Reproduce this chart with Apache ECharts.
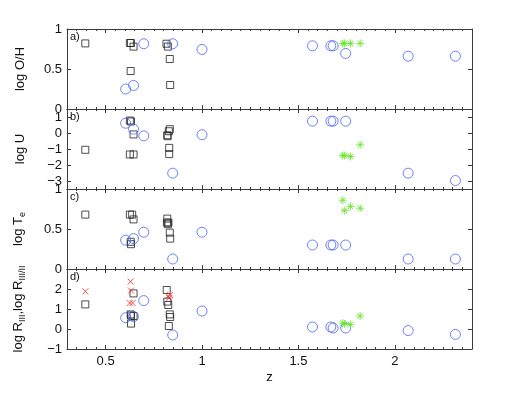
<!DOCTYPE html>
<html>
<head>
<meta charset="utf-8">
<script src="https://cdn.jsdelivr.net/npm/echarts@6/dist/echarts.min.js"></script>
<style>
  html, body { margin: 0; padding: 0; background: #fff; }
  #chart { width: 523px; height: 394px; }
</style>
</head>
<body>
<div id="chart"></div>
<script>
// x ticks (redshift z)
const zTicks = [0.5, 1, 1.5, 2]

// a) log O/H
const ohSquares = [[0.395, 0.82], [0.626, 0.825], [0.632, 0.825], [0.645, 0.78], [0.63, 0.475],
  [0.816, 0.816], [0.823, 0.78], [0.833, 0.625], [0.835, 0.30]]
const ohCircles = [[0.604, 0.25], [0.645, 0.295], [0.698, 0.816], [0.848, 0.816], [1.0, 0.745],
  [1.573, 0.79], [1.668, 0.79], [1.68, 0.79], [1.745, 0.695], [2.069, 0.66], [2.314, 0.66]]
const ohStars = [[1.73, 0.82], [1.74, 0.82], [1.77, 0.82], [1.82, 0.82]]

// b) log U
const uSquares = [[0.395, -1.05], [0.626, 0.78], [0.632, 0.72], [0.645, -0.09], [0.626, -1.34],
  [0.645, -1.34], [0.833, 0.24], [0.828, 0.11], [0.82, -0.14], [0.822, -0.2], [0.83, -0.93], [0.83, -1.32]]
const uCircles = [[0.604, 0.61], [0.645, 0.24], [0.698, -0.18], [0.848, -2.51], [1.0, -0.11],
  [1.573, 0.74], [1.668, 0.74], [1.68, 0.74], [1.745, 0.74], [2.069, -2.51], [2.314, -2.97]]
const uStars = [[1.73, -1.41], [1.74, -1.41], [1.77, -1.47], [1.82, -0.74]]

// c) log Te
const teSquares = [[0.395, 0.68], [0.626, 0.68], [0.638, 0.68], [0.645, 0.62], [0.63, 0.34],
  [0.632, 0.31], [0.82, 0.63], [0.818, 0.58], [0.826, 0.58], [0.823, 0.56], [0.833, 0.455], [0.835, 0.38]]
const teCircles = [[0.604, 0.36], [0.645, 0.38], [0.698, 0.46], [0.848, 0.125], [1.0, 0.46],
  [1.573, 0.30], [1.668, 0.30], [1.68, 0.30], [1.745, 0.30], [2.069, 0.125], [2.314, 0.125]]
const teStars = [[1.73, 0.86], [1.74, 0.73], [1.77, 0.78], [1.82, 0.76]]

// d) log R_III, log R_III/II
const rSquares = [[0.395, 1.23], [0.63, 0.73], [0.632, 0.67], [0.645, 0.65], [0.632, 0.27],
  [0.645, 1.78], [0.817, 1.95], [0.82, 1.37], [0.825, 1.2], [0.833, 0.73], [0.835, 0.6], [0.828, 0.15]]
const rCrosses = [[0.395, 1.88], [0.63, 2.37], [0.632, 1.92], [0.625, 1.3], [0.64, 1.3],
  [0.825, 1.65], [0.83, 1.55], [0.835, 1.7]]
const rCircles = [[0.604, 0.565], [0.645, 0.62], [0.698, 1.42], [0.848, -0.3], [1.0, 0.9],
  [1.573, 0.1], [1.668, 0.1], [1.68, 0.05], [1.745, 0.05], [2.069, -0.08], [2.314, -0.27]]
const rStars = [[1.73, 0.3], [1.74, 0.25], [1.77, 0.23], [1.82, 0.65]]

// panels: y range + tick values
const panels = [
  {tag: 'a)', name: 'log O/H', min: 0, max: 1, ticks: [0, 0.5, 1], labels: [0, 0.5, 1],
    sets: {sq: ohSquares, ci: ohCircles, st: ohStars}},
  {tag: 'b)', name: 'log U', min: -3.5, max: 1.5, ticks: [-3, -2, -1, 0, 1], labels: [-3, -2, -1, 0, 1],
    sets: {sq: uSquares, ci: uCircles, st: uStars}},
  {tag: 'c)', name: 'log T{sub|e}', min: 0, max: 1, ticks: [0, 0.5, 1], labels: [0, 0.5, 1],
    sets: {sq: teSquares, ci: teCircles, st: teStars}},
  {tag: 'd)', name: 'log R{sub|III},log R{sub|III/II}', min: -1, max: 3, ticks: [-1, 0, 1, 2, 3], labels: [-1, 0, 1, 2],
    sets: {sq: rSquares, ci: rCircles, st: rStars, cr: rCrosses}}
]

const FONT = 'Liberation Sans, Arial, Helvetica, sans-serif'
const AXIS_COLOR = '#3a3a3a'
const TOP = 29, H = 80, LEFT = 67, RIGHT = 51

const STAR = 'path://M5,0L5,10M0,5L10,5M1.5,1.5L8.5,8.5M1.5,8.5L8.5,1.5'
const CROSS = 'path://M0,0L10,10M0,10L10,0'

function fmt(v) {
  return String(v).replace('-', '\u2212')
}

let grid = [], xAxis = [], yAxis = [], series = [], graphic = []

panels.forEach((p, i) => {
  grid.push({left: LEFT, right: RIGHT, top: TOP + i * H, height: H, show: false})
  const last = i === panels.length - 1
  // major + minor ticks, bottom and top
  ;['bottom', 'top'].forEach(pos => {
    xAxis.push({
      type: 'value', gridIndex: i, position: pos, min: 0.3, max: 2.4,
      name: (last && pos === 'bottom') ? 'z' : '',
      nameLocation: 'middle', nameGap: 22,
      nameTextStyle: {fontFamily: FONT, fontSize: 13, color: '#111'},
      axisLine: {show: true, onZero: false, lineStyle: {color: AXIS_COLOR, width: 1}},
      axisTick: {show: true, inside: true, length: 4, customValues: zTicks, lineStyle: {color: AXIS_COLOR}},
      axisLabel: {show: last && pos === 'bottom', customValues: zTicks, margin: 6,
        fontFamily: FONT, fontSize: 13, color: '#111', formatter: fmt},
      splitLine: {show: false}
    })
    xAxis.push({
      type: 'value', gridIndex: i, position: pos, min: 0.3, max: 2.4, interval: 0.05,
      axisLine: {show: false, onZero: false},
      axisTick: {show: true, inside: true, length: 2, lineStyle: {color: AXIS_COLOR}},
      axisLabel: {show: false},
      splitLine: {show: false}
    })
  })
  ;['left', 'right'].forEach(pos => {
    yAxis.push({
      type: 'value', gridIndex: i, position: pos, min: p.min, max: p.max,
      name: pos === 'left' ? p.name : '',
      nameLocation: 'middle', nameGap: 40, nameRotate: 90,
      nameTextStyle: {fontFamily: FONT, fontSize: 13, color: '#111',
        rich: {sub: {fontFamily: FONT, fontSize: 9, color: '#111', padding: [9, 0, 0, 0]}}},
      axisLine: {show: true, onZero: false, lineStyle: {color: AXIS_COLOR, width: 1}},
      axisTick: {show: true, inside: true, length: 4, customValues: p.ticks, lineStyle: {color: AXIS_COLOR}},
      axisLabel: {show: pos === 'left', customValues: p.labels, margin: 5,
        fontFamily: FONT, fontSize: 13, color: '#111', formatter: fmt},
      splitLine: {show: false}
    })
  })
  const xi = i * 4, yi = i * 2
  const base = {type: 'scatter', xAxisIndex: xi, yAxisIndex: yi, silent: true}
  series.push(Object.assign({}, base, {
    data: p.sets.sq, symbol: 'rect', symbolSize: 7,
    itemStyle: {color: 'transparent', borderColor: '#222', borderWidth: 1}
  }))
  if (p.sets.cr) {
    series.push(Object.assign({}, base, {
      data: p.sets.cr, symbol: CROSS, symbolSize: 6,
      itemStyle: {color: 'transparent', borderColor: '#ee2a2a', borderWidth: 1}
    }))
  }
  series.push(Object.assign({}, base, {
    data: p.sets.ci, symbol: 'circle', symbolSize: 10,
    itemStyle: {color: 'transparent', borderColor: '#4a64f5', borderWidth: 1}
  }))
  series.push(Object.assign({}, base, {
    data: p.sets.st, symbol: STAR, symbolSize: 8,
    itemStyle: {color: 'transparent', borderColor: '#5fe61e', borderWidth: 1}
  }))
  graphic.push({
    type: 'text', left: LEFT + 3, top: TOP + i * H + 2, silent: true,
    style: {text: p.tag, fontFamily: FONT, fontSize: 11, fill: '#111'}
  })
})

const chart = echarts.init(document.getElementById('chart'), null, {renderer: 'canvas'})
chart.setOption({
  animation: false,
  backgroundColor: '#fff',
  grid: grid,
  xAxis: xAxis,
  yAxis: yAxis,
  series: series,
  graphic: graphic
})
</script>
</body>
</html>
